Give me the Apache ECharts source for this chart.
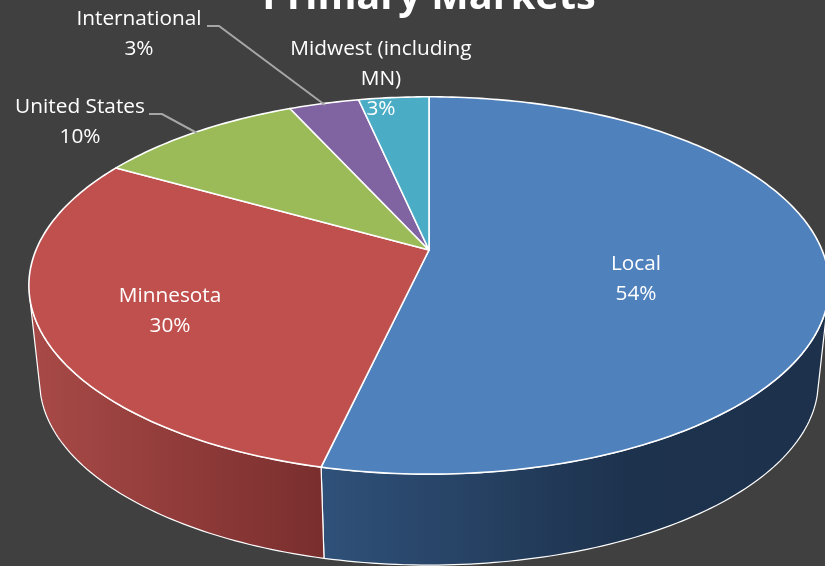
<!DOCTYPE html>
<html>
<head>
<meta charset="utf-8">
<style>
  html, body { margin: 0; padding: 0; background: #404040; overflow: hidden; }
  #chart { width: 825px; height: 566px; }
</style>
<script src="https://cdn.jsdelivr.net/npm/echarts@6/dist/echarts.min.js"></script>
</head>
<body>
<div id="chart"></div>
<script>
const categories = ['Local', 'Minnesota', 'United States', 'International', 'Midwest (including\nMN)'];
const shares = [53.6, 29.6, 10, 3.4, 3.4];
const sliceColors = ['#4f81bd', '#c0504d', '#9bbb59', '#8064a2', '#4bacc6'];

const labelFont = '"Open Sans", sans-serif';
// label centre for each slice
const labelPos = [[636, 279], [170, 311], [80, 122], [139, 34], [381, 79]];
const leaders = [
  null,
  null,
  [[149, 114], [162, 114], [197, 133]],
  [[207, 26], [219, 26], [325, 105]],
  null
];

// tilted disc: circle seen through a perspective, apex is where the slices meet
const apexTop = [429, 250];
const apexBottom = [429, 347];
const rimScale = 0.973;
const radiusX = 393;
const radiusY = 182;
const tilt = 0.188;
// part of the rim that shows a wall (degrees clockwise from 12 o'clock)
const wallFrom = 105;
const wallTo = 255;

const wallFills = {
  0: [[0, '#2f5078'], [0.6, '#1d324d'], [1, '#1d314c']],
  1: [[0, '#a84a47'], [1, '#782d2d']]
};
const wallRange = { 0: [330, 825], 1: [32, 332] };

function project(deg, apex, scale) {
  const t = deg * Math.PI / 180;
  const u = Math.sin(t);
  const v = Math.cos(t);
  const w = 1 + tilt * v;
  return [apex[0] + scale * radiusX * u / w, apex[1] - scale * radiusY * v / w];
}

function arc(from, to, apex, scale) {
  const pts = [];
  const n = Math.max(2, Math.ceil(Math.abs(to - from)));
  for (let i = 0; i <= n; i++) {
    pts.push(project(from + (to - from) * i / n, apex, scale));
  }
  return pts;
}

const total = shares.reduce((a, b) => a + b, 0);

function sliceAngles(idx) {
  let before = 0;
  for (let i = 0; i < idx; i++) before += shares[i];
  return [before / total * 360, (before + shares[idx]) / total * 360];
}

const seriesData = categories.map((c, i) => ({ name: c, value: [i, shares[i]] }));

function renderWall(params, api) {
  const idx = api.value(0);
  const a = sliceAngles(idx);
  const from = Math.max(a[0], wallFrom);
  const to = Math.min(a[1], wallTo);
  if (to <= from) return null;
  const top = arc(from, to, apexTop, 1);
  const bottom = arc(to, from, apexBottom, rimScale);
  const range = wallRange[idx];
  return {
    type: 'polygon',
    shape: { points: top.concat(bottom) },
    style: {
      fill: new echarts.graphic.LinearGradient(range[0], 0, range[1], 0,
        wallFills[idx].map(s => ({ offset: s[0], color: s[1] })), true),
      stroke: '#fff',
      lineWidth: 1.2,
      lineJoin: 'round'
    }
  };
}

function renderTop(params, api) {
  const idx = api.value(0);
  const a = sliceAngles(idx);
  return {
    type: 'polygon',
    shape: { points: [apexTop].concat(arc(a[0], a[1], apexTop, 1)) },
    style: { fill: sliceColors[idx], stroke: '#fff', lineWidth: 1.6, lineJoin: 'round' }
  };
}

function renderLabel(params, api) {
  const idx = api.value(0);
  const pct = Math.round(api.value(1) / total * 100) + '%';
  const children = [{
    type: 'text',
    style: {
      x: labelPos[idx][0],
      y: labelPos[idx][1],
      text: categories[idx] + '\n' + pct,
      fill: '#fff',
      font: '20.8px ' + labelFont,
      lineHeight: 30,
      align: 'center',
      verticalAlign: 'middle'
    }
  }];
  if (leaders[idx]) {
    children.unshift({
      type: 'polyline',
      shape: { points: leaders[idx] },
      style: { stroke: '#a6a6a6', lineWidth: 2, fill: 'none' }
    });
  }
  return { type: 'group', children: children };
}

const chart = echarts.init(document.getElementById('chart'), null, { renderer: 'canvas' });
chart.setOption({
  backgroundColor: '#404040',
  animation: false,
  title: {
    text: 'Primary Markets',
    left: 424,
    top: -27,
    textAlign: 'center',
    textStyle: { color: '#fff', fontFamily: labelFont, fontWeight: 'bold', fontSize: 39.7 }
  },
  series: [
    { type: 'custom', name: 'wall', coordinateSystem: 'none', z: 1, clip: false, data: seriesData, renderItem: renderWall },
    { type: 'custom', name: 'top', coordinateSystem: 'none', z: 2, clip: false, data: seriesData, renderItem: renderTop },
    { type: 'custom', name: 'labels', coordinateSystem: 'none', z: 3, clip: false, data: seriesData, renderItem: renderLabel }
  ]
});
</script>
</body>
</html>
